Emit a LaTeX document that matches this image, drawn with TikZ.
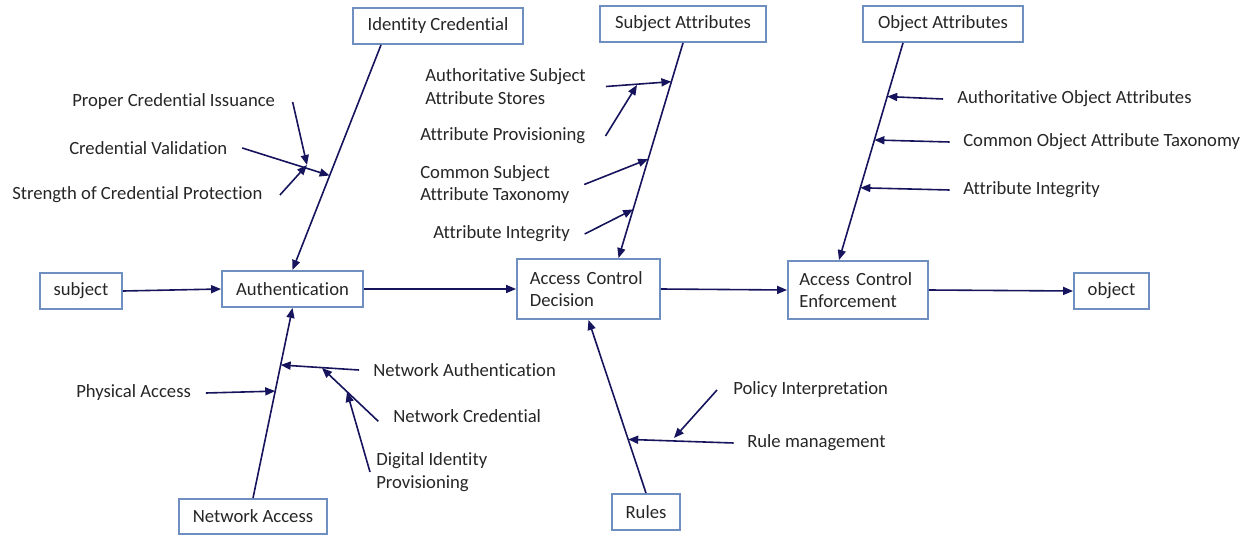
\documentclass[tikz,border=0pt]{standalone}
\usepackage{fontspec}
\setmainfont{Carlito}[Ligatures=NoCommon]
\usetikzlibrary{arrows.meta,calc}
\definecolor{boxline}{RGB}{110,143,192}
\definecolor{bone}{RGB}{22,20,92}
\definecolor{txt}{RGB}{38,38,38}

\begin{document}
\begin{tikzpicture}[x=0.75pt,y=-0.75pt,
  every node/.style={text=txt,font=\fontsize{14}{17}\selectfont},
  blk/.style={draw=boxline,line width=1.4pt,fill=white,inner sep=0pt,minimum height=27pt},
  lbl/.style={inner sep=0pt,align=left,yshift=-1.5pt},
  arr/.style={draw=bone,line width=1.2pt,-{Triangle[length=7.5pt,width=6pt]}}]
\useasboundingbox (0,0) rectangle (1252,535);
\node[blk,minimum width=127.5pt] (idc) at (438,26) {Identity Credential};
\node[blk,minimum width=124.5pt] (sa) at (683,24) {Subject Attributes};
\node[blk,minimum width=120pt] (oa) at (943,24) {Object Attributes};
\node[blk,minimum width=61.5pt] (subj) at (81,291) {subject};
\node[blk,minimum width=105.75pt] (auth) at (292.5,289) {Authentication};
\node[blk,minimum height=45pt,text width=88pt,align=left,inner xsep=9.6pt] (acd) at (588.5,289) {Access Control\\Decision};
\node[blk,minimum height=43.5pt,text width=88pt,align=left,inner xsep=8.5pt] (ace) at (858,290) {Access Control\\Enforcement};
\node[blk,minimum width=56.25pt] (obj) at (1111.5,291) {object};
\node[blk,minimum width=111pt,minimum height=26.25pt] (na) at (253,516.5) {Network Access};
\node[blk,minimum width=51pt] (rules) at (646,512) {Rules};
\draw[arr] (subj.east) -- (auth.west);
\draw[arr] (auth.east) -- (acd.west);
\draw[arr] (acd.east) -- (ace.west);
\draw[arr] (ace.east) -- (obj.west);
\draw[arr] ($(idc.south)+(-57,0)$) -- (auth.north) coordinate[pos=0.58] (icv);
\draw[arr] (sa.south) -- ($(acd.north)+(30,0)$) coordinate[pos=0.18] (sasas) coordinate[pos=0.54] (scsat) coordinate[pos=0.774] (sai);
\draw[arr] ($(oa.south)+(-40,0)$) -- ($(ace.north)+(-19,0)$) coordinate[pos=0.247] (oaoa) coordinate[pos=0.447] (ocoat) coordinate[pos=0.667] (oai);
\draw[arr] (na.north) -- (auth.south) coordinate[pos=0.5625] (npa) coordinate[pos=0.7] (nnau);
\draw[arr] (rules.north) -- (acd.south) coordinate[pos=0.31] (rrm);
\node[lbl,anchor=west] (pci) at (72,100) {Proper Credential Issuance};
\node[lbl,anchor=west] (cv) at (69,146) {Credential Validation};
\node[lbl,anchor=west] (scp) at (12,193) {Strength of Credential Protection};
\coordinate (cvtip) at (307,165);
\draw[arr] ([xshift=11pt]cv.east) -- (icv);
\draw[arr] ([xshift=13pt]pci.east) -- (cvtip);
\draw[arr] ([xshift=13pt]scp.east) -- (cvtip);
\node[lbl,anchor=west] (asas) at (425,84.5) {Authoritative Subject\\Attribute Stores};
\node[lbl,anchor=west] (ap) at (420,134) {Attribute Provisioning};
\node[lbl,anchor=west] (csat) at (420,182.5) {Common Subject\\Attribute Taxonomy};
\node[lbl,anchor=west] (sail) at (433,232) {Attribute Integrity};
\coordinate (asastip) at (637,85);
\draw[arr] ([xshift=15pt]asas.east) -- (sasas);
\draw[arr] ([xshift=15pt]ap.east) -- (asastip);
\draw[arr] ([xshift=11pt]csat.east) -- (scsat);
\draw[arr] ([xshift=11pt]sail.east) -- (sai);
\node[lbl,anchor=west] (aoa) at (957,97) {Authoritative Object Attributes};
\node[lbl,anchor=west] (coat) at (963,140) {Common Object Attribute Taxonomy};
\node[lbl,anchor=west] (oail) at (963,188) {Attribute Integrity};
\draw[arr] ([xshift=-10.5pt]aoa.west) -- (oaoa);
\draw[arr] ([xshift=-10pt]coat.west) -- (ocoat);
\draw[arr] ([xshift=-10pt]oail.west) -- (oai);
\node[lbl,anchor=west] (pa) at (76,391) {Physical Access};
\node[lbl,anchor=west] (nau) at (373,368) {Network Authentication};
\node[lbl,anchor=west] (ncr) at (393,414) {Network Credential};
\node[lbl,anchor=west] (dip) at (376,470) {Digital Identity\\Provisioning};
\coordinate (nautip) at (322,368);
\coordinate (ncrtip) at (347,392);
\draw[arr] ([xshift=11pt]pa.east) -- (npa);
\draw[arr] ([xshift=-10.5pt]nau.west) -- (nnau);
\draw[arr] ([shift={(-11pt,-4pt)}]ncr.west) -- (nautip);
\draw[arr] ([xshift=-4.5pt]dip.west) -- (ncrtip);
\node[lbl,anchor=west] (pi) at (733,388) {Policy Interpretation};
\node[lbl,anchor=west] (rm) at (747,441) {Rule management};
\coordinate (rmtip) at (674,438);
\draw[arr] ([xshift=-10pt]rm.west) -- (rrm);
\draw[arr] ([xshift=-12pt]pi.west) -- (rmtip);
\end{tikzpicture}
\end{document}
